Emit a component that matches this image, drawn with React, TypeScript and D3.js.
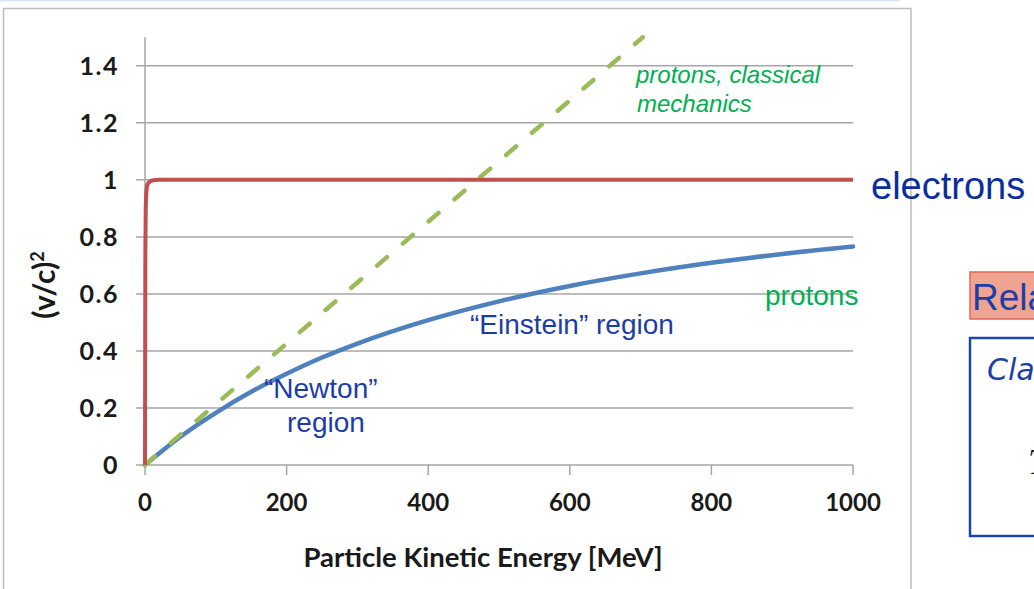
import React from "react";
import * as d3 from "d3";

const WIDTH = 1034;
const HEIGHT = 589;

// kinetic energy [MeV] and (v/c)^2
const protonEnergy = [0, 25, 50, 100, 150, 200, 250, 300, 400, 500, 600, 700, 800, 900, 1000];
const protonV2 = [0, 0.051, 0.099, 0.183, 0.257, 0.32, 0.377, 0.426, 0.508, 0.574, 0.628, 0.672, 0.709, 0.74, 0.766];

const classicalEnergy = [0, 100, 200, 300, 400, 500, 600, 703];
const classicalV2 = [0, 0.213, 0.426, 0.64, 0.853, 1.066, 1.279, 1.5];

const electronEnergy = [0, 0.5, 1, 2, 3, 5, 10, 20, 50, 100, 500, 1000];
const electronV2 = [0, 0.75, 0.89, 0.96, 0.98, 0.99, 0.998, 1, 1, 1, 1, 1];

const xTicks = [0, 200, 400, 600, 800, 1000];
const yTicks = [0, 0.2, 0.4, 0.6, 0.8, 1, 1.2, 1.4];

const AXIS_FONT = "Lato, 'Open Sans', sans-serif";
const TEXT_FONT = "'Liberation Sans', Arial, sans-serif";

function App() {
  const x = d3.scaleLinear().domain([0, 1000]).range([145, 853]);
  const y = d3.scaleLinear().domain([0, 1.5]).range([465, 37.3]);

  const line = d3
    .line<[number, number]>()
    .x((d) => x(d[0]))
    .y((d) => y(d[1]))
    .curve(d3.curveMonotoneX);

  const protons = protonEnergy.map((e, i) => [e, protonV2[i]] as [number, number]);
  const classical = classicalEnergy.map((e, i) => [e, classicalV2[i]] as [number, number]);
  const electrons = electronEnergy.map((e, i) => [e, electronV2[i]] as [number, number]);

  const gridColor = "#A6A6A6";
  const blueText = "#1C3CA8";
  const greenText = "#00B050";

  return (
    <div style={{ position: "absolute", left: 0, top: 0 }}>
      <svg width={WIDTH} height={HEIGHT} style={{ display: "block", background: "#fff" }}>
        {/* slide frame */}
        <rect x={0} y={0} width={900} height={1.5} fill="#DCE6F4" />
        <rect x={3.5} y={8.5} width={907.5} height={600} fill="none" stroke="#BDBDBD" strokeWidth={1.5} />

        {/* gridlines + y ticks */}
        {yTicks.map((t) => (
          <line key={"g" + t} x1={136} x2={x(1000)} y1={y(t)} y2={y(t)} stroke={gridColor} strokeWidth={1.5} />
        ))}
        {yTicks.map((t) => (
          <text
            key={"yl" + t}
            x={119}
            y={y(t)}
            dy="0.35em"
            textAnchor="end"
            fontFamily={AXIS_FONT}
            fontWeight="bold"
            fontSize={25}
            letterSpacing={1.5}
            fill="#1a1a1a"
          >
            {t}
          </text>
        ))}
        {/* y axis */}
        <line x1={x(0)} x2={x(0)} y1={y(1.5)} y2={y(0)} stroke={gridColor} strokeWidth={1.5} />
        {/* x ticks */}
        {xTicks.map((t) => (
          <g key={"x" + t}>
            <line x1={x(t)} x2={x(t)} y1={y(0)} y2={y(0) + 10} stroke={gridColor} strokeWidth={1.5} />
            <text
              x={x(t)}
              y={511}
              textAnchor="middle"
              fontFamily={AXIS_FONT}
              fontWeight="bold"
              fontSize={24}
              fill="#1a1a1a"
            >
              {t}
            </text>
          </g>
        ))}

        {/* axis titles */}
        <text
          x={483}
          y={567}
          textAnchor="middle"
          fontFamily={AXIS_FONT}
          fontWeight="bold"
          fontSize={27.5}
          fill="#1a1a1a"
        >
          Particle Kinetic Energy [MeV]
        </text>
        <text
          transform="translate(55,285) rotate(-90)"
          textAnchor="middle"
          fontFamily={AXIS_FONT}
          fontWeight="bold"
          fontSize={30}
          fill="#1a1a1a"
        >
          (v/c)
          <tspan fontSize={18} dy={-11}>2</tspan>
        </text>

        {/* series */}
        <path d={line(protons) ?? ""} fill="none" stroke="#4F81BD" strokeWidth={4.5} strokeLinecap="round" />
        <path
          d={line(classical) ?? ""}
          fill="none"
          stroke="#9BBB59"
          strokeWidth={4.5}
          strokeDasharray="13 21"
          strokeLinecap="round"
        />
        <path d={line(electrons) ?? ""} fill="none" stroke="#C0504D" strokeWidth={4} strokeLinejoin="round" />

        {/* annotations */}
        <text x={636} y={83} fontFamily={TEXT_FONT} fontStyle="italic" fontSize={24} fill={greenText}>
          protons, classical
        </text>
        <text x={637} y={112} fontFamily={TEXT_FONT} fontStyle="italic" fontSize={24} fill={greenText}>
          mechanics
        </text>
        <text x={765} y={305} fontFamily={TEXT_FONT} fontSize={28} fill={greenText}>
          protons
        </text>
        <text x={470} y={334} fontFamily={TEXT_FONT} fontSize={28} fill={blueText}>
          “Einstein” region
        </text>
        <text x={264} y={398} fontFamily={TEXT_FONT} fontSize={28} fill={blueText}>
          “Newton”
        </text>
        <text x={287} y={432} fontFamily={TEXT_FONT} fontSize={28} fill={blueText}>
          region
        </text>
        <text x={871} y={199} fontFamily={TEXT_FONT} fontSize={38} fill="#0B2E9E">
          electrons
        </text>

        {/* cut-off slide content at right */}
        <rect x={970} y={272} width={80} height={47} fill="#F0A393" stroke="#E0694E" strokeWidth={1.5} />
        <text x={972} y={310} fontFamily={TEXT_FONT} fontSize={37} fill="#1B3FA6">
          Rela
        </text>
        <rect x={970} y={338} width={80} height={198} fill="none" stroke="#1E44B0" strokeWidth={2.5} />
        <text x={987} y={380} fontFamily="'DejaVu Sans', sans-serif" fontStyle="italic" fontSize={30} fill="#1B3FA6">
          Cla
        </text>
        <text x={1028} y={474} fontFamily="'Liberation Serif', serif" fontStyle="italic" fontSize={36} fill="#111">
          T
        </text>
      </svg>
    </div>
  );
}

export default App;
